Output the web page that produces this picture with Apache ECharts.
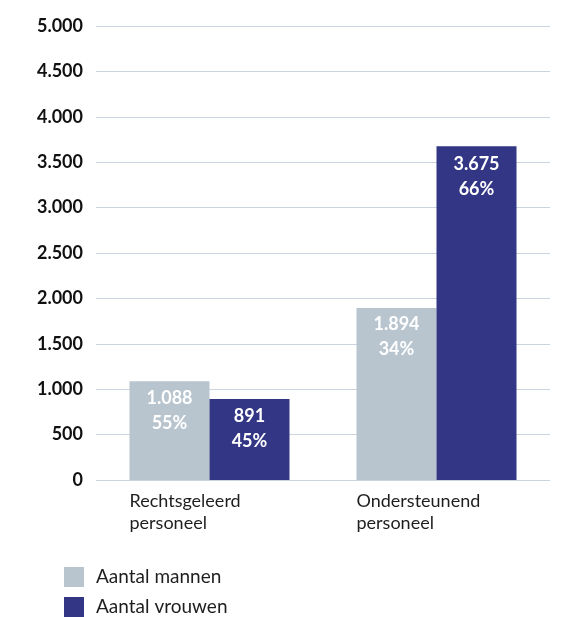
<!DOCTYPE html>
<html>
<head>
<meta charset="utf-8">
<script src="https://cdn.jsdelivr.net/npm/echarts@6/dist/echarts.min.js"></script>
<style>html,body{margin:0;padding:0;background:#fff}#c{width:563px;height:617px}</style>
</head>
<body>
<div id="c"></div>
<script>
var categories = ['Rechtsgeleerd\npersoneel', 'Ondersteunend\npersoneel'];
var seriesNames = ['Aantal mannen', 'Aantal vrouwen'];
var mannen = [1088, 1894];
var vrouwen = [891, 3675];
var mannenPct = [55, 34];
var vrouwenPct = [45, 66];
var yTicks = [0, 500, 1000, 1500, 2000, 2500, 3000, 3500, 4000, 4500, 5000];

var FONT = 'Lato, "Open Sans", sans-serif';
function fmtNum(v) {
  return String(v).replace(/\B(?=(\d{3})+(?!\d))/g, '.');
}
function labelFn(pcts) {
  return function (p) { return fmtNum(p.value) + '\n' + pcts[p.dataIndex] + '%'; };
}
var chart = echarts.init(document.getElementById('c'), null, {renderer: 'canvas'});
chart.setOption({
  animation: false,
  textStyle: {fontFamily: FONT},
  grid: {left: 96, right: 13, top: 26, bottom: 137, containLabel: false},
  legend: {
    orient: 'vertical', left: 64, top: 567, height: 60, padding: 0,
    itemWidth: 20, itemHeight: 20, itemGap: 10,
    icon: 'rect',
    textStyle: {fontFamily: FONT, fontSize: 19, lineHeight: 20, height: 20, color: '#1e1e1e', padding: [0, 0, 0, 7]},
    data: seriesNames
  },
  xAxis: {
    type: 'category', data: categories,
    axisLine: {show: false}, axisTick: {show: false},
    axisLabel: {
      margin: 10, interval: 0,
      formatter: function (v) {
        return v.split('\n').map(function (l) { return '{a|' + l + '}'; }).join('\n');
      },
      rich: {a: {width: 160, align: 'left', fontFamily: FONT, fontSize: 18, color: '#1e1e1e', lineHeight: 22}}
    }
  },
  yAxis: {
    type: 'value', min: 0, max: 5000, interval: 500,
    axisLine: {show: false}, axisTick: {show: false},
    splitLine: {lineStyle: {color: '#c9d4de', width: 1}},
    axisLabel: {
      margin: 13, fontFamily: FONT, fontSize: 18, fontWeight: 'bold', color: '#111',
      formatter: function (v) { return yTicks.indexOf(v) >= 0 ? fmtNum(v) : ''; }
    }
  },
  series: [
    {
      name: seriesNames[0], type: 'bar', data: mannen, barWidth: 80, barGap: '0%',
      itemStyle: {color: '#b8c5cf'},
      label: {show: true, position: 'insideTop', distance: 4, color: '#fff', fontFamily: FONT,
        fontSize: 18, fontWeight: 'bold', lineHeight: 25, formatter: labelFn(mannenPct)}
    },
    {
      name: seriesNames[1], type: 'bar', data: vrouwen, barWidth: 80, barGap: '0%',
      itemStyle: {color: '#333684'},
      label: {show: true, position: 'insideTop', distance: 5, color: '#fff', fontFamily: FONT,
        fontSize: 18, fontWeight: 'bold', lineHeight: 25, formatter: labelFn(vrouwenPct)}
    }
  ]
});
</script>
</body>
</html>
